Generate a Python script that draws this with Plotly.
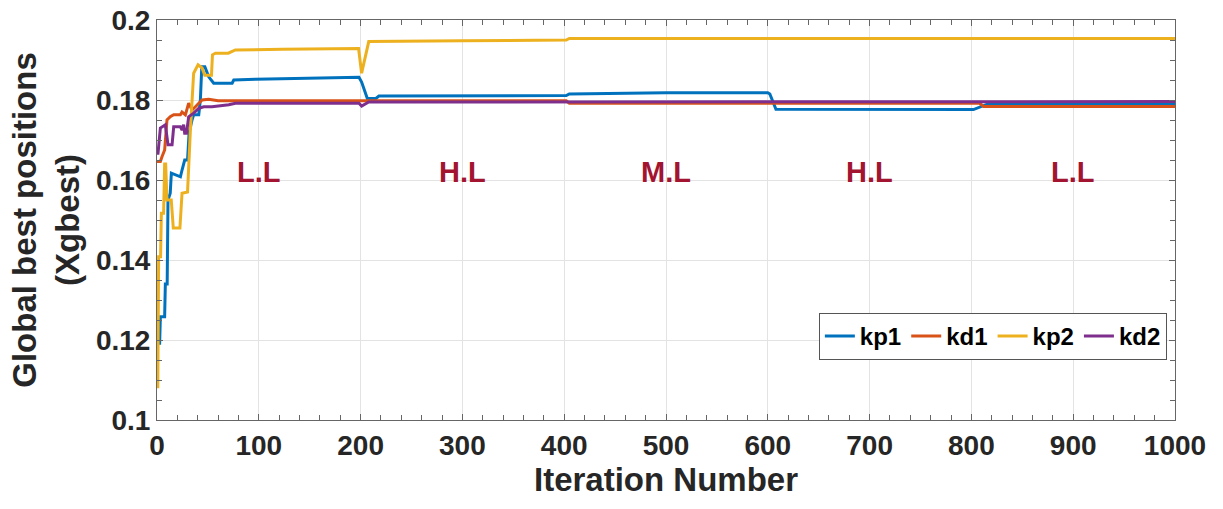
import plotly.graph_objects as go

# Breakpoints of the global-best trajectories (iteration, value)
kp1_iter = [1, 2.6, 3.3, 7.5, 8.2, 10, 10.8, 13, 14.1, 23, 24.6, 27.2, 30, 31.5, 34.4, 36, 41,
            42.6, 44, 47, 50.8, 55.7, 73.8, 75.4, 96.7, 155.7, 198.4, 201, 206.6, 215, 218,
            402, 405, 500, 600, 602, 608, 802, 815, 1000]
kp1_val = [0.1192, 0.1192, 0.1258, 0.1258, 0.134, 0.134, 0.155, 0.1567, 0.1617, 0.1608, 0.1625,
           0.165, 0.165, 0.1717, 0.175, 0.1763, 0.1763, 0.18, 0.1883, 0.1883, 0.1858, 0.1842,
           0.1842, 0.185, 0.1852, 0.1854, 0.1857, 0.1845, 0.1804, 0.1804, 0.181, 0.1811,
           0.1815, 0.1818, 0.1818, 0.1815, 0.1777, 0.1776, 0.1789, 0.1789]

kd1_iter = [0, 3.3, 4.9, 7.5, 9.8, 13, 16.4, 23, 24.6, 27.9, 31.1, 34.4, 37.7, 44.3, 50.8, 60,
            402, 405, 808, 812, 1000]
kd1_val = [0.1646, 0.1646, 0.1658, 0.1675, 0.175, 0.1758, 0.1763, 0.1763, 0.177, 0.1763, 0.1792,
           0.1775, 0.1783, 0.18, 0.1802, 0.1798, 0.1798, 0.1792, 0.1792, 0.1784, 0.1784]

kp2_iter = [0, 0.8, 1.6, 3.5, 4.3, 6.5, 7.5, 8.5, 9.8, 14, 16, 22.5, 24.6, 30, 32.8, 36, 40.3,
            44.3, 46.9, 53.5, 54.5, 57.4, 70, 77, 123, 198, 201, 203, 208, 300, 402, 405, 1000]
kp2_val = [0.1083, 0.1083, 0.1408, 0.1408, 0.1517, 0.1517, 0.164, 0.164, 0.155, 0.155, 0.148,
           0.148, 0.1567, 0.157, 0.1725, 0.1867, 0.1888, 0.188, 0.1862, 0.1862, 0.1913, 0.1917,
           0.1917, 0.1925, 0.1927, 0.1929, 0.1867, 0.189, 0.1946, 0.1948, 0.195, 0.1954, 0.1954]

kd2_iter = [0, 1, 3.3, 8.2, 10.8, 14.8, 16.4, 23, 24.6, 26.2, 27.2, 29, 31.1, 36, 41, 45.9, 54,
            70.5, 77, 198.4, 201, 208, 1000]
kd2_val = [0.1667, 0.1667, 0.173, 0.1738, 0.1688, 0.1688, 0.1733, 0.1733, 0.1725, 0.1738,
           0.1717, 0.1717, 0.1758, 0.1767, 0.1779, 0.1783, 0.1783, 0.1788, 0.1792, 0.1792,
           0.1785, 0.1795, 0.1796]

series_names = ["kp1", "kd1", "kp2", "kd2"]
series_colors = ["#0072BD", "#D95319", "#EDB120", "#7E2F8E"]

# Load-level labels across the run
region_labels = ["L.L", "H.L", "M.L", "H.L", "L.L"]
region_iters = [100, 300, 500, 700, 900]
region_level = 0.162

x_ticks = list(range(0, 1001, 100))
y_ticks = [0.1, 0.12, 0.14, 0.16, 0.18, 0.2]
y_tick_text = ["0.1", "0.12", "0.14", "0.16", "0.18", "0.2"]

FONT = "Liberation Sans, Arial, Helvetica, sans-serif"
INK = "#262626"

fig = go.Figure()
for name, color, xs, ys in zip(series_names, series_colors,
                               [kp1_iter, kd1_iter, kp2_iter, kd2_iter],
                               [kp1_val, kd1_val, kp2_val, kd2_val]):
    fig.add_trace(go.Scatter(x=xs, y=ys, mode="lines", name=name,
                             line=dict(color=color, width=3)))

for lbl, it in zip(region_labels, region_iters):
    fig.add_annotation(x=it, y=region_level, text=lbl, showarrow=False,
                       font=dict(family=FONT, size=29, color="#A2142F", weight="bold"))

axis_common = dict(
    showline=True, linecolor="#666666", linewidth=1, mirror="allticks",
    ticks="inside", ticklen=6, tickwidth=1, tickcolor="#666666",
    showgrid=True, gridcolor="#e3e3e3", gridwidth=1, zeroline=False,
    tickfont=dict(family=FONT, size=28, color=INK, weight="bold"),
)

fig.update_xaxes(
    range=[0, 1000], tickvals=x_ticks,
    minor=dict(dtick=20, ticks="inside", ticklen=5, tickcolor="#666666", showgrid=False),
    title=dict(text="Iteration Number", standoff=8,
               font=dict(family=FONT, size=33, color=INK, weight="bold")),
    **axis_common,
)
fig.update_yaxes(
    range=[0.1, 0.2], tickvals=y_ticks, ticktext=y_tick_text,
    minor=dict(dtick=0.005, tick0=0.1, ticks="inside", ticklen=5, tickcolor="#666666",
               showgrid=False),
    title=dict(text="Global best positions<br>(Xgbest)", standoff=6,
               font=dict(family=FONT, size=33, color=INK, weight="bold")),
    **axis_common,
)

fig.update_layout(
    width=1223, height=509,
    margin=dict(l=157, r=48, t=20, b=89, autoexpand=False),
    paper_bgcolor="white", plot_bgcolor="white",
    showlegend=True,
    legend=dict(orientation="h", x=0.992, y=0.15, xanchor="right", yanchor="bottom",
                bgcolor="white", bordercolor="#555555", borderwidth=1,
                font=dict(family=FONT, size=24, color="#000000", weight="bold"),
                itemwidth=30, tracegroupgap=0),
)

fig.write_html("out.html")
